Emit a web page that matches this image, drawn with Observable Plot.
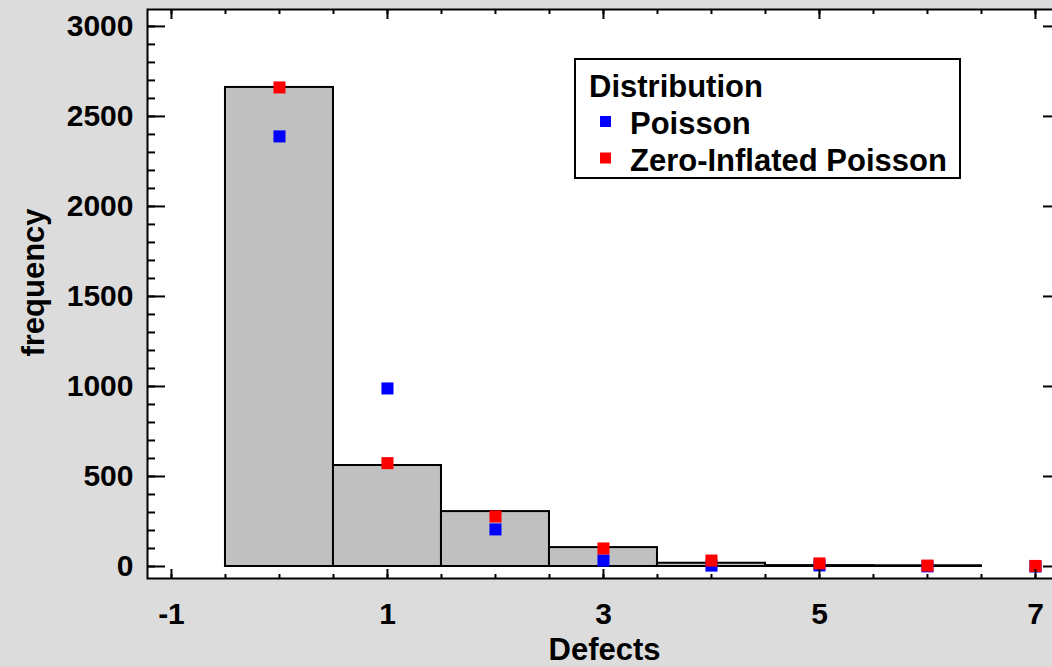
<!DOCTYPE html>
<html><head><meta charset="utf-8">
<script src="https://cdn.jsdelivr.net/npm/d3@7"></script>
<script src="https://cdn.jsdelivr.net/npm/@observablehq/plot@0.6"></script>
<style>
body{margin:0;background:#dcdcdc;}
#chart{width:1052px;height:667px;overflow:hidden;}
</style></head><body><div id="chart"></div>
<script>
// Observed histogram
const defects = [0, 1, 2, 3, 4, 5, 6];
const observed = [2661, 561, 305, 105, 18, 5, 4];
// Fitted distributions
const fitX = [0, 1, 2, 3, 4, 5, 6, 7];
const poisson = [2389, 989, 206, 33, 5, 6, 1, 0];
const zip = [2661, 574, 278, 100, 33, 17, 5, 3];
// Axis ticks
const yMajor = [0, 500, 1000, 1500, 2000, 2500, 3000];
const yMinor = d3.range(0, 3001, 100);
const xMajor = [-1, 1, 3, 5, 7];
const xMinor = d3.range(-1, 7.01, 0.5);
const seriesNames = ["Poisson", "Zero-Inflated Poisson"];
const seriesColors = ["#0000ff", "#ff0000"];

const bars = defects.map((d, i) => ({d, v: observed[i]}));
const pRows = fitX.map((d, i) => ({d, v: poisson[i]}));
const zRows = fitX.map((d, i) => ({d, v: zip[i]}));

const W = 1052, H = 667, mL = 147, mR = -9, mT = 9, mB = 89;
const fw = W - mL - mR, fh = H - mT - mB;

const chart = Plot.plot({
  width: W, height: H,
  marginLeft: mL, marginRight: mR, marginTop: mT, marginBottom: mB,
  x: {domain: [-1.222, 7.241]},
  y: {domain: [-66.7, 3094]},
  style: {fontFamily: "'Liberation Sans', Arial, sans-serif", fontSize: "30px", fontWeight: "bold", background: "#dcdcdc", color: "black", overflow: "hidden"},
  marks: [
    Plot.frame({fill: "white"}),
    Plot.rect(bars, {x1: d => d.d - 0.5, x2: d => d.d + 0.5, y1: 0, y2: "v", fill: "#c0c0c0", stroke: "black", strokeWidth: 2}),
    Plot.dot(pRows, {x: "d", y: "v", symbol: "square", r: 6.8, fill: seriesColors[0]}),
    Plot.dot(zRows, {x: "d", y: "v", symbol: "square", r: 6.8, fill: seriesColors[1]}),
    // inside ticks
    Plot.tickY(yMinor, {y: d => d, insetRight: fw - 8, strokeWidth: 2}),
    Plot.tickY(yMajor, {y: d => d, insetRight: fw - 18, strokeWidth: 2}),
    Plot.tickY(yMinor, {y: d => d, insetLeft: fw - 9, strokeWidth: 2}),
    Plot.tickY(yMajor, {y: d => d, insetLeft: fw - 18, strokeWidth: 2}),
    Plot.tickX(xMinor, {x: d => d, insetTop: fh - 4, strokeWidth: 2}),
    Plot.tickX(xMajor, {x: d => d, insetTop: fh - 9, strokeWidth: 2}),
    Plot.tickX(xMinor, {x: d => d, insetBottom: fh - 5, strokeWidth: 2}),
    Plot.tickX(xMajor, {x: d => d, insetBottom: fh - 10, strokeWidth: 2}),
    Plot.frame({stroke: "black", strokeWidth: 2}),
    Plot.axisY(yMajor, {tickSize: 0, tickPadding: 14, tickFormat: d => String(d), label: null}),
    Plot.axisX(xMajor, {tickSize: 0, tickPadding: 24, tickFormat: d => String(d), label: null}),
    Plot.text(["Defects"], {text: d => d, frameAnchor: "bottom", textAnchor: "middle", dy: 72, lineAnchor: "middle", fontSize: 31}),
    Plot.text(["frequency"], {text: d => d, frameAnchor: "left", textAnchor: "middle", rotate: -90, dx: -113.6, dy: -11.5, lineAnchor: "middle", fontSize: 31})
  ]
});
document.getElementById("chart").appendChild(chart);

// Legend inside plot area
const svg = d3.select(chart);
const lg = svg.append("g").attr("font-size", 31).attr("font-weight", "bold")
  .attr("text-anchor", "start").attr("font-family", "'Liberation Sans', Arial, sans-serif");
lg.append("rect").attr("x", 575).attr("y", 59).attr("width", 385).attr("height", 119)
  .attr("fill", "white").attr("stroke", "black").attr("stroke-width", 2);
lg.append("text").attr("x", 589).attr("y", 97).text("Distribution");
seriesNames.forEach((name, i) => {
  const by = 134 + i * 36.5;
  lg.append("rect").attr("x", 600).attr("y", by - 18).attr("width", 11).attr("height", 11).attr("fill", seriesColors[i]);
  lg.append("text").attr("x", 630).attr("y", by).text(name);
});
</script></body></html>
